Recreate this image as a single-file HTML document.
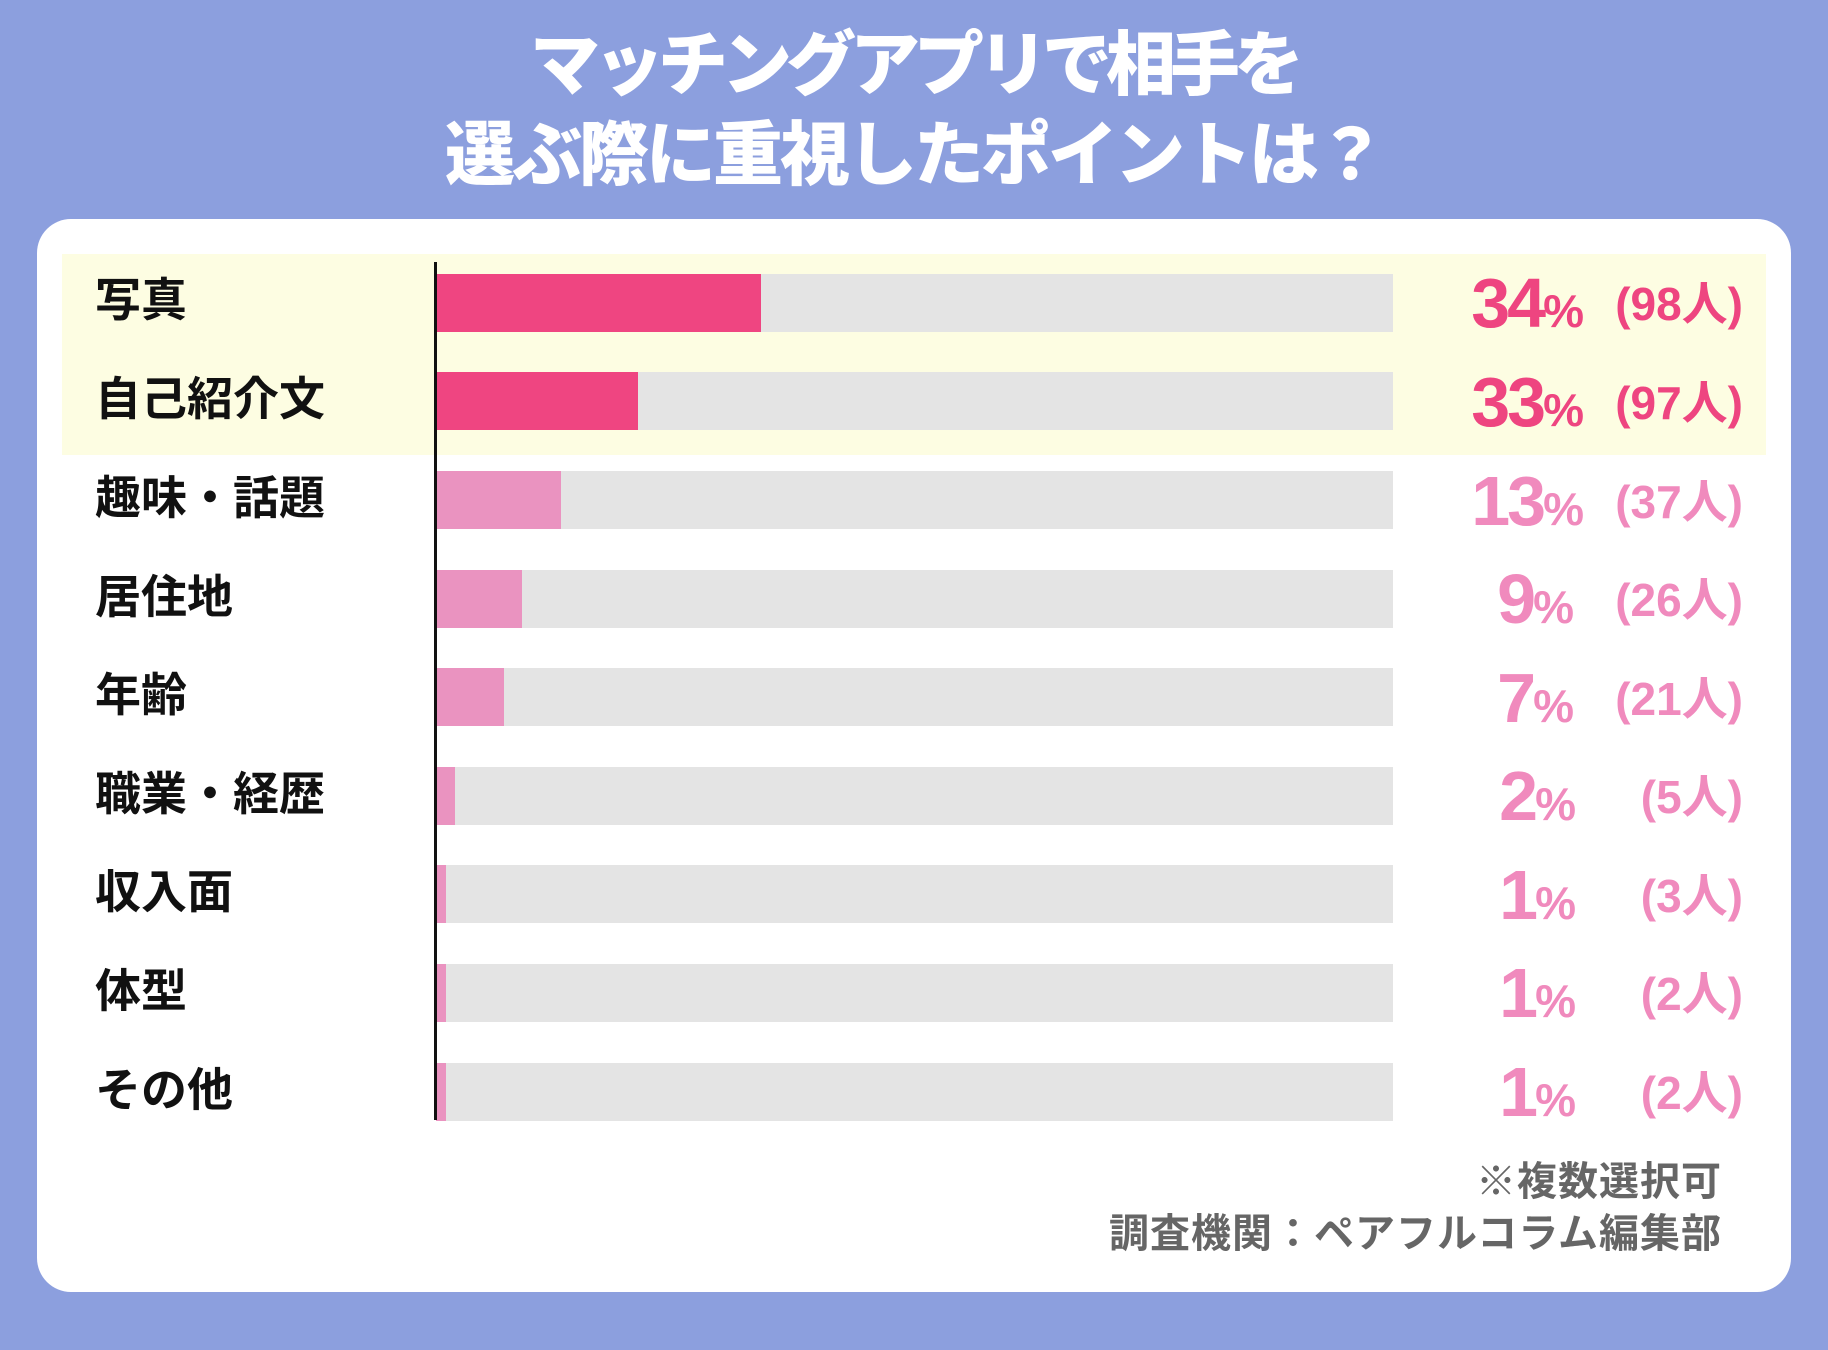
<!DOCTYPE html>
<html><head><meta charset="utf-8"><style>
body{margin:0;width:1828px;height:1350px;background:#8c9fde;position:relative;overflow:hidden;font-family:"Liberation Sans","Noto Sans CJK JP",sans-serif;}
.t{position:absolute;left:0;width:1828px;text-align:center;color:#fff;font-weight:900;font-size:70px;line-height:1;}
.card{position:absolute;left:37px;top:219px;width:1754px;height:1073px;background:#fff;border-radius:34px;}
.band{position:absolute;left:62px;top:254px;width:1704px;height:201px;background:#fdfde2;}
.axis{position:absolute;left:434px;top:262px;width:3px;height:858px;background:#111;}
.track{position:absolute;left:436px;width:957px;height:58px;background:#e4e4e4;}
.bar{position:absolute;left:436px;height:58px;}
.lab{position:absolute;left:95px;font-size:46px;font-weight:700;color:#111;line-height:1;}
.pc{position:absolute;right:244px;font-weight:700;line-height:1;}
.pc b{font-size:70px;letter-spacing:-3px}
.pc span{font-size:46px}
.pp{position:absolute;right:85px;font-weight:700;font-size:46px;line-height:1;}
.f{position:absolute;right:106px;color:#666;font-weight:700;font-size:40px;line-height:1;letter-spacing:1px}
</style></head><body>
<div class="t" style="top:30px;letter-spacing:-6px">マッチングアプリで相手を</div>
<div class="t" style="top:120px;letter-spacing:-3px">選ぶ際に重視したポイントは？</div>
<div class="card"></div>
<div class="band"></div>

<div class="track" style="top:274px"></div><div class="bar" style="top:274px;width:325px;background:#ef4581"></div>
<div class="track" style="top:372px"></div><div class="bar" style="top:372px;width:202px;background:#ef4581"></div>
<div class="track" style="top:471px"></div><div class="bar" style="top:471px;width:125px;background:#ea93c0"></div>
<div class="track" style="top:570px"></div><div class="bar" style="top:570px;width:86px;background:#ea93c0"></div>
<div class="track" style="top:668px"></div><div class="bar" style="top:668px;width:68px;background:#ea93c0"></div>
<div class="track" style="top:767px"></div><div class="bar" style="top:767px;width:19px;background:#ea93c0"></div>
<div class="track" style="top:865px"></div><div class="bar" style="top:865px;width:10px;background:#ea93c0"></div>
<div class="track" style="top:964px"></div><div class="bar" style="top:964px;width:10px;background:#ea93c0"></div>
<div class="track" style="top:1063px"></div><div class="bar" style="top:1063px;width:10px;background:#ea93c0"></div>
<div class="axis"></div>

<div class="lab" style="top:277px">写真</div>
<div class="lab" style="top:376px">自己紹介文</div>
<div class="lab" style="top:475px">趣味・話題</div>
<div class="lab" style="top:574px">居住地</div>
<div class="lab" style="top:672px">年齢</div>
<div class="lab" style="top:771px">職業・経歴</div>
<div class="lab" style="top:869px">収入面</div>
<div class="lab" style="top:968px">体型</div>
<div class="lab" style="top:1067px">その他</div>

<div class="pc" style="top:268px;color:#ee4580"><b>34</b><span>%</span></div><div class="pp" style="top:281px;color:#ee4580">(98人)</div>
<div class="pc" style="top:367px;color:#ee4580"><b>33</b><span>%</span></div><div class="pp" style="top:380px;color:#ee4580">(97人)</div>
<div class="pc" style="top:466px;color:#f08abd"><b>13</b><span>%</span></div><div class="pp" style="top:479px;color:#f08abd">(37人)</div>
<div class="pc" style="top:564px;right:254px;color:#f08abd"><b>9</b><span>%</span></div><div class="pp" style="top:577px;color:#f08abd">(26人)</div>
<div class="pc" style="top:663px;right:254px;color:#f08abd"><b>7</b><span>%</span></div><div class="pp" style="top:676px;color:#f08abd">(21人)</div>
<div class="pc" style="top:761px;right:252px;color:#f08abd"><b>2</b><span>%</span></div><div class="pp" style="top:774px;color:#f08abd">(5人)</div>
<div class="pc" style="top:860px;right:252px;color:#f08abd"><b>1</b><span>%</span></div><div class="pp" style="top:873px;color:#f08abd">(3人)</div>
<div class="pc" style="top:958px;right:252px;color:#f08abd"><b>1</b><span>%</span></div><div class="pp" style="top:971px;color:#f08abd">(2人)</div>
<div class="pc" style="top:1057px;right:252px;color:#f08abd"><b>1</b><span>%</span></div><div class="pp" style="top:1070px;color:#f08abd">(2人)</div>

<div class="f" style="top:1162px">※複数選択可</div>
<div class="f" style="top:1214px">調査機関：ペアフルコラム編集部</div>
</body></html>
